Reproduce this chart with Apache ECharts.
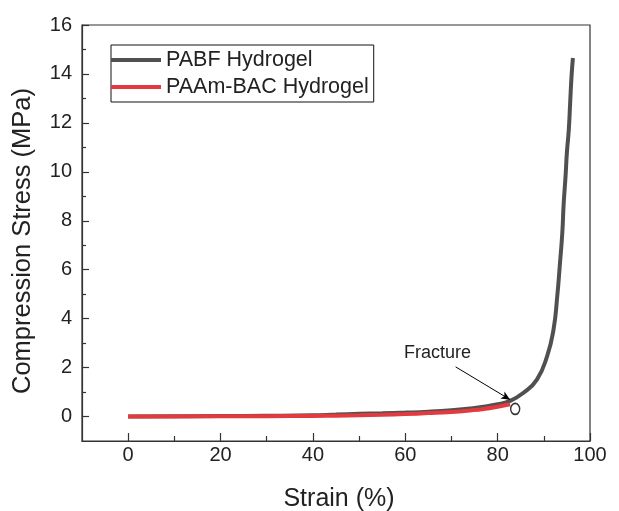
<!DOCTYPE html>
<html>
<head>
<meta charset="utf-8">
<script src="https://cdn.jsdelivr.net/npm/echarts@6/dist/echarts.min.js"></script>
<style>
  html, body { margin: 0; padding: 0; background: #fff; }
  #chart { width: 619px; height: 511px; }
</style>
</head>
<body>
<div id="chart"></div>
<script>
// Compression stress–strain curves of the two hydrogels
const pabfStrain = [0, 10, 20, 30, 40, 45, 50, 55, 60, 65, 70, 74, 77, 80, 82.7, 85.6, 88.5, 90.7, 92.1, 92.9, 93.5, 94.0, 94.3, 94.7, 95.0, 95.4, 95.7, 96.0, 96.3];
const pabfStress = [0, 0.01, 0.02, 0.03, 0.05, 0.08, 0.11, 0.13, 0.16, 0.2, 0.26, 0.33, 0.4, 0.5, 0.64, 0.97, 1.51, 2.46, 3.55, 4.9, 6.27, 7.5, 8.7, 9.8, 10.8, 11.7, 12.8, 13.9, 14.65];

const paamStrain = [0, 10, 20, 30, 40, 45, 50, 55, 60, 65, 70, 74, 77, 80, 82.7];
const paamStress = [0, 0.005, 0.01, 0.015, 0.025, 0.035, 0.05, 0.07, 0.1, 0.14, 0.19, 0.25, 0.31, 0.4, 0.5];

// Where the PAAm-BAC sample broke
const fracturePoint = [83.8, 0.31];
const fractureLabelAt = [67.0, 2.6];
const fractureArrow = [[70.9, 2.03], [82.7, 0.69]];

// Axis ticks
const xTickLabels = [0, 20, 40, 60, 80, 100];
const xMinorTicks = [10, 30, 50, 70, 90];
const yTickLabels = [0, 2, 4, 6, 8, 10, 12, 14, 16];
const yMinorTicks = [1, 3, 5, 7, 9, 11, 13, 15];

const seriesNames = ['PABF Hydrogel', 'PAAm-BAC Hydrogel'];

const zip = (xs, ys) => xs.map((x, i) => [x, ys[i]]);

const FONT = 'Liberation Sans, Arial, sans-serif';
const AXIS_COLOR = '#333';
const TEXT_COLOR = '#222';

const xRange = { min: -10, max: 100 };
const yRange = { min: -1, max: 16 };

const chart = echarts.init(document.getElementById('chart'), null, { renderer: 'canvas' });

chart.setOption({
  backgroundColor: '#fff',
  animation: false,
  textStyle: { fontFamily: FONT },
  grid: {
    left: 82, right: 29, top: 25, bottom: 70,
    containLabel: false, outerBoundsMode: 'none',
    show: true, borderColor: AXIS_COLOR, borderWidth: 1.2, backgroundColor: 'transparent'
  },
  legend: {
    data: seriesNames,
    orient: 'vertical',
    left: 111, top: 45,
    icon: 'rect',
    itemWidth: 50, itemHeight: 4,
    itemGap: 5,
    padding: [4, 5, 4, 0],
    borderColor: '#111', borderWidth: 1,
    textStyle: { fontFamily: FONT, fontSize: 21.5, color: TEXT_COLOR }
  },
  xAxis: [
    {
      type: 'value', ...xRange, position: 'bottom',
      name: 'Strain (%)', nameLocation: 'middle', nameGap: 46,
      nameTextStyle: { fontFamily: FONT, fontSize: 25, color: TEXT_COLOR, padding: [0, 0, 0, 6] },
      axisLine: { show: true, onZero: false, lineStyle: { color: AXIS_COLOR, width: 1.2 } },
      axisTick: { show: true, inside: true, length: 8, customValues: xTickLabels, lineStyle: { color: AXIS_COLOR, width: 1.2 } },
      axisLabel: { customValues: xTickLabels, margin: 4, fontFamily: FONT, fontSize: 20, color: TEXT_COLOR },
      splitLine: { show: false }
    },
    {
      type: 'value', ...xRange, position: 'bottom',
      axisLine: { show: false, onZero: false },
      axisTick: { show: true, inside: true, length: 5, customValues: xMinorTicks, lineStyle: { color: AXIS_COLOR, width: 1.2 } },
      axisLabel: { show: false },
      splitLine: { show: false }
    }
  ],
  yAxis: [
    {
      type: 'value', ...yRange, position: 'left',
      name: 'Compression Stress (MPa)', nameLocation: 'middle', nameGap: 46,
      nameTextStyle: { fontFamily: FONT, fontSize: 25.5, color: TEXT_COLOR, padding: [0, 16, 0, 0] },
      axisLine: { show: true, onZero: false, lineStyle: { color: AXIS_COLOR, width: 1.2 } },
      axisTick: { show: true, inside: true, length: 7, customValues: yTickLabels, lineStyle: { color: AXIS_COLOR, width: 1.2 } },
      axisLabel: { customValues: yTickLabels, margin: 10, fontFamily: FONT, fontSize: 20, color: TEXT_COLOR },
      splitLine: { show: false }
    },
    {
      type: 'value', ...yRange, position: 'left',
      axisLine: { show: false, onZero: false },
      axisTick: { show: true, inside: true, length: 4, customValues: yMinorTicks, lineStyle: { color: AXIS_COLOR, width: 1.2 } },
      axisLabel: { show: false },
      splitLine: { show: false }
    }
  ],
  series: [
    {
      name: seriesNames[0],
      type: 'line',
      xAxisIndex: 0, yAxisIndex: 0,
      data: zip(pabfStrain, pabfStress),
      smooth: 0.5,
      showSymbol: false,
      lineStyle: { color: '#505050', width: 4 },
      itemStyle: { color: '#505050' },
      z: 2
    },
    {
      name: seriesNames[1],
      type: 'line',
      xAxisIndex: 0, yAxisIndex: 0,
      data: zip(paamStrain, paamStress),
      smooth: 0.5,
      showSymbol: false,
      lineStyle: { color: '#e23b3f', width: 4 },
      itemStyle: { color: '#e23b3f' },
      z: 3,
      markLine: {
        silent: true,
        symbol: ['none', 'arrow'],
        symbolSize: [6, 9],
        lineStyle: { color: '#000', width: 1, type: 'solid' },
        label: { show: false },
        data: [[{ coord: fractureArrow[0] }, { coord: fractureArrow[1] }]]
      },
      markPoint: {
        silent: true,
        symbol: 'circle', symbolSize: 0,
        label: { show: true, position: 'inside', formatter: 'Fracture', fontFamily: FONT, fontSize: 18, color: TEXT_COLOR },
        data: [{ coord: fractureLabelAt }]
      }
    },
    {
      name: 'Fracture',
      type: 'scatter',
      xAxisIndex: 0, yAxisIndex: 0,
      data: [fracturePoint],
      symbol: 'circle',
      symbolSize: [9, 11],
      itemStyle: { color: '#fff', borderColor: '#000', borderWidth: 1.5 },
      z: 4
    }
  ]
});
</script>
</body>
</html>
